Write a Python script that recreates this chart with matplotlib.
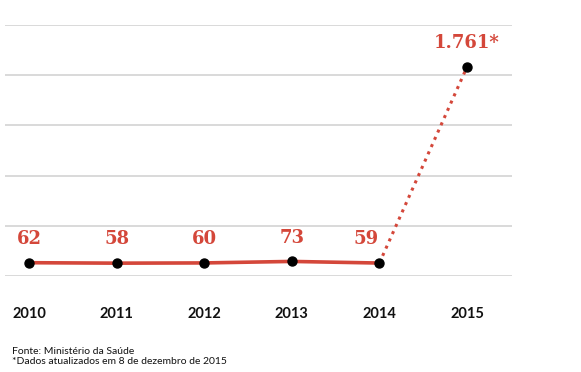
import matplotlib
matplotlib.use("Agg")
import matplotlib.pyplot as plt

years = [2010, 2011, 2012, 2013, 2014, 2015]
cases = [62, 58, 60, 73, 59, 1761]
value_labels = ["62", "58", "60", "73", "59", "1.761*"]
source_lines = ["Fonte: Ministério da Saúde", "*Dados atualizados em 8 de dezembro de 2015"]

RED = "#d4473a"
GRID = "#cfcfcf"

fig = plt.figure(figsize=(5.81, 3.72), dpi=100)
W, H = 581, 372
ax = fig.add_axes([5 / W, 1 - 276 / H, 507 / W, (276 - 25) / H])

y0, y1 = -53.5, 2125.7
ax.set_ylim(y0, y1)
ax.set_xlim(2009.726, 2015.514)

step = (y1 - y0) / 5
grid_vals = [y0 + k * step for k in range(6)]
ax.set_yticks(grid_vals)
ax.yaxis.grid(True, color=GRID, linewidth=1.1)
ax.tick_params(axis="y", length=0, labelleft=False)
ax.set_axisbelow(True)
for s in ax.spines.values():
    s.set_visible(False)

# solid segment 2010-2014
ax.plot(years[:5], cases[:5], color=RED, linewidth=2.6, solid_capstyle="round", zorder=2)
# dotted segment 2014-2015
ax.plot(years[4:], cases[4:], color=RED, linewidth=2.2, linestyle=(0, (1, 1.6)), zorder=2)
ax.scatter(years, cases, s=42, color="black", zorder=3)

for i, (x, v, lab) in enumerate(zip(years, cases, value_labels)):
    dx = -9.5 if i == 4 else 0
    ax.annotate(lab, (x, v), xytext=(dx, 13.5), textcoords="offset points",
                ha="center", va="baseline", color=RED, fontsize=13,
                fontweight="bold", family="DejaVu Serif")

ax.set_xticks(years)
ax.set_xticklabels([str(y) for y in years], fontsize=10.5, fontweight="bold",
                   family="Lato", color="#111111")
ax.tick_params(axis="x", length=0, pad=22)

fig.text(12 / W, 1 - 351 / H, source_lines[0], fontsize=7.5, family="Lato",
         va="center", ha="left", color="#111111")
fig.text(12 / W, 1 - 361 / H, source_lines[1], fontsize=7.5, family="Lato",
         va="center", ha="left", color="#111111")

fig.savefig("out.png", dpi=100, facecolor="white")
